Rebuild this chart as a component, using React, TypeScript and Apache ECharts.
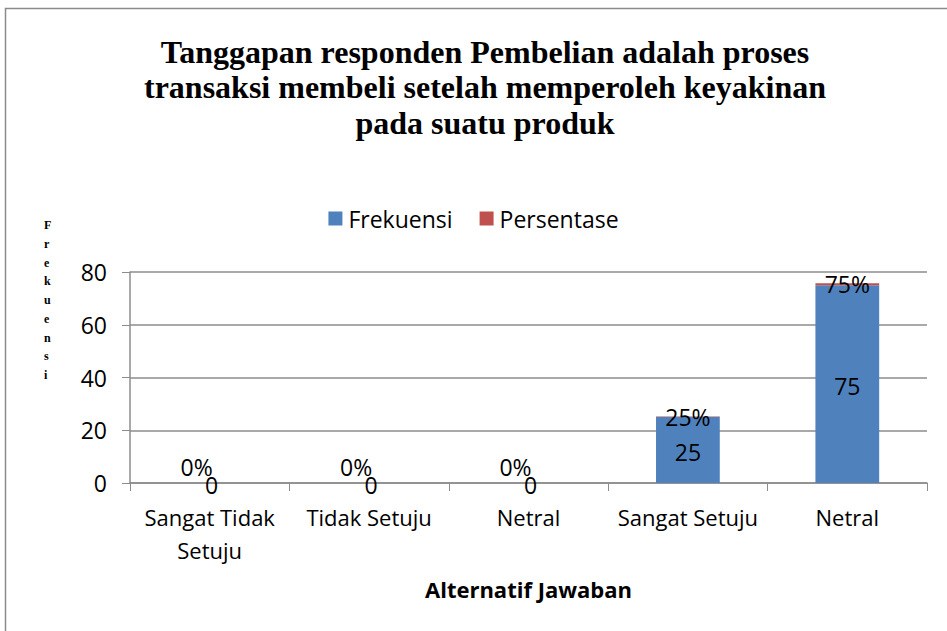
import React, { useEffect, useRef } from "react";
import * as echarts from "echarts";

const categories = ["Sangat Tidak\nSetuju", "Tidak Setuju", "Netral", "Sangat Setuju", "Netral"];
const frekuensi = [0, 0, 0, 25, 75];
const persentase = [0, 0, 0, 0.25, 0.75];
const yTicks = [0, 20, 40, 60, 80];

const titleText =
  "Tanggapan responden Pembelian adalah proses\ntransaksi membeli setelah memperoleh keyakinan\npada suatu produk";

export default function App() {
  const ref = useRef<HTMLDivElement>(null);
  useEffect(() => {
    if (!ref.current) return;
    const chart = echarts.init(ref.current, null, { renderer: "svg" });
    const sans = "'Open Sans', 'Noto Sans', sans-serif";
    const option = {
      animation: false,
      backgroundColor: "#ffffff",
      title: {
        text: titleText,
        left: 480,
        textAlign: "center",
        top: 29,
        textStyle: {
          fontFamily: "'Liberation Serif', serif",
          fontWeight: "bold",
          fontSize: 32,
          lineHeight: 35.5,
          color: "#000",
        },
      },
      legend: {
        top: 202,
        left: "center",
        itemWidth: 14,
        itemHeight: 14,
        itemGap: 27,
        icon: "rect",
        textStyle: { fontFamily: sans, fontSize: 23, color: "#000", padding: [0, 0, 0, 1] },
        data: ["Frekuensi", "Persentase"],
      },
      grid: { left: 130, right: 20, top: 272, bottom: 148, containLabel: false },
      xAxis: {
        type: "category",
        data: categories,
        axisLine: { lineStyle: { color: "#8c8c8c", width: 1.5 } },
        axisTick: { show: true, length: 8, lineStyle: { color: "#8c8c8c" } },
        axisLabel: {
          fontFamily: sans,
          fontSize: 22,
          color: "#000",
          margin: 17,
          lineHeight: 33,
          interval: 0,
        },
        name: "Alternatif Jawaban",
        nameLocation: "middle",
        nameGap: 95,
        nameTextStyle: { fontFamily: sans, fontSize: 22, fontWeight: "bold", color: "#000" },
      },
      yAxis: {
        type: "value",
        min: 0,
        max: 80,
        interval: 20,
        axisLine: { show: true, lineStyle: { color: "#8c8c8c", width: 1.5 } },
        axisTick: { show: true, length: 8, lineStyle: { color: "#8c8c8c" } },
        splitLine: { lineStyle: { color: "#8c8c8c", width: 1.5 } },
        axisLabel: {
          fontFamily: sans,
          fontSize: 23,
          color: "#000",
          margin: 23,
          formatter: (v: number) => (yTicks.includes(v) ? String(v) : ""),
        },
      },
      series: [
        {
          name: "Frekuensi",
          type: "bar",
          stack: "total",
          barWidth: "40%",
          itemStyle: { color: "#4F81BD" },
          label: {
            show: true,
            position: "inside",
            fontFamily: sans,
            fontSize: 23,
            color: "#000",
            offset: [0, 2],
          },
          data: frekuensi.map((v) =>
            v === 0 ? { value: v, label: { offset: [2, 2] } } : v
          ),
        },
        {
          name: "Persentase",
          type: "bar",
          stack: "total",
          barWidth: "40%",
          itemStyle: { color: "#C0504D" },
          label: {
            show: true,
            position: "inside",
            fontFamily: sans,
            fontSize: 23,
            color: "#000",
            formatter: (p: any) => Math.round(p.value * 100) + "%",
          },
          data: persentase.map((v) =>
            v === 0 ? { value: v, label: { offset: [-13, -16] } } : v
          ),
        },
      ],
      graphic: [
        {
          type: "rect",
          shape: { x: 5.5, y: 8.5, width: 1200, height: 1000 },
          style: { fill: "none", stroke: "#8a8a8a", lineWidth: 1.5 },
          silent: true,
          z: -1,
        },
        {
          type: "text",
          left: 44,
          top: 216,
          style: {
            text: "F\nr\ne\nk\nu\ne\nn\ns\ni",
            fontFamily: "'Liberation Serif', serif",
            fontWeight: "bold",
            fontSize: 12,
            lineHeight: 18.7,
            fill: "#000",
            align: "center",
          },
        },
      ],
    };
    chart.setOption(option as any);
    return () => chart.dispose();
  }, []);
  return (
    <div
      ref={ref}
      style={{ position: "absolute", left: 0, top: 0, width: 947, height: 631 }}
    />
  );
}
